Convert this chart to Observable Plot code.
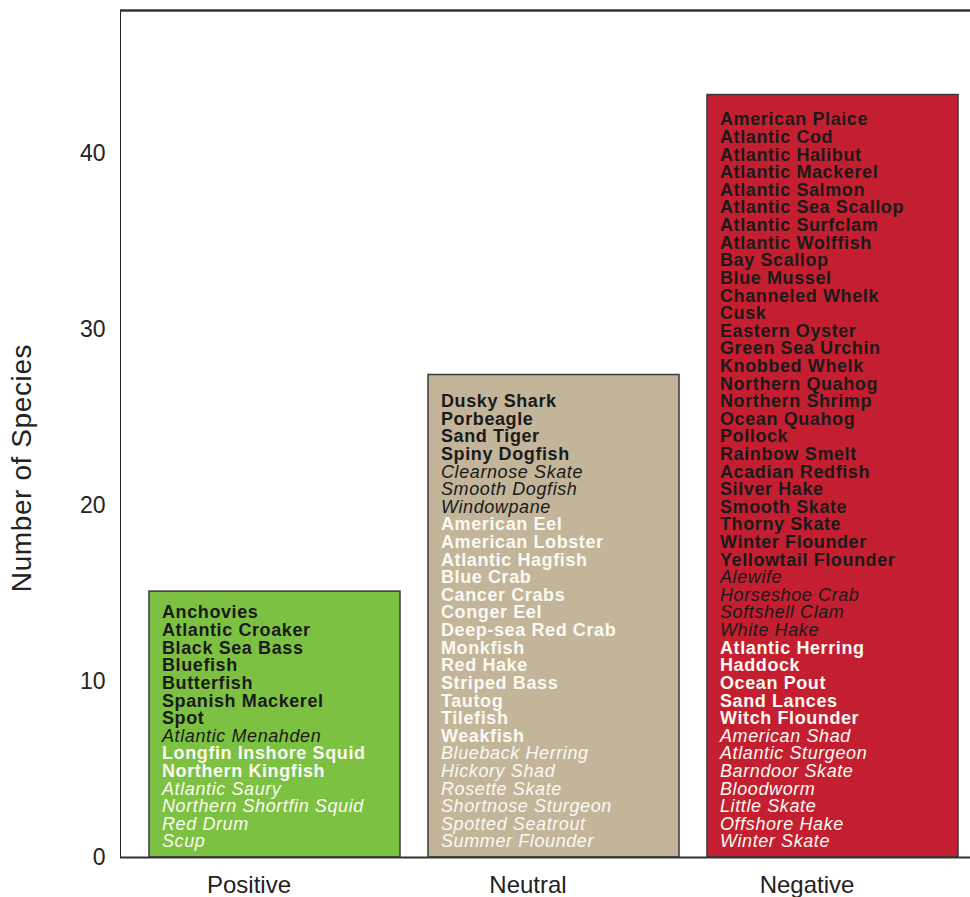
<!DOCTYPE html>
<html>
<head>
<meta charset="utf-8">
<script src="https://cdn.jsdelivr.net/npm/d3@7"></script>
<script src="https://cdn.jsdelivr.net/npm/@observablehq/plot@0.6"></script>
<style>
  html, body { margin: 0; padding: 0; background: #fff; }
  #chart svg { display: block; }
  #chart g[aria-label="text"] text { letter-spacing: 0.6px; }
</style>
</head>
<body>
<div id="chart"></div>
<script>
// ---- data ----
const categories = ["Positive", "Neutral", "Negative"];
const barHeights = [15.1, 27.4, 43.3];
const barColors = ["#7dc142", "#c3b59a", "#c41f30"];
const yTicks = [0, 10, 20, 30, 40];

// species listed top to bottom; group counts in order:
// dark bold, dark italic, light bold, light italic
const positiveSpecies = [
  "Anchovies", "Atlantic Croaker", "Black Sea Bass", "Bluefish", "Butterfish",
  "Spanish Mackerel", "Spot", "Atlantic Menahden", "Longfin Inshore Squid",
  "Northern Kingfish", "Atlantic Saury", "Northern Shortfin Squid", "Red Drum", "Scup"
];
const positiveGroups = [7, 1, 2, 4];

const neutralSpecies = [
  "Dusky Shark", "Porbeagle", "Sand Tiger", "Spiny Dogfish", "Clearnose Skate",
  "Smooth Dogfish", "Windowpane", "American Eel", "American Lobster", "Atlantic Hagfish",
  "Blue Crab", "Cancer Crabs", "Conger Eel", "Deep-sea Red Crab", "Monkfish", "Red Hake",
  "Striped Bass", "Tautog", "Tilefish", "Weakfish", "Blueback Herring", "Hickory Shad",
  "Rosette Skate", "Shortnose Sturgeon", "Spotted Seatrout", "Summer Flounder"
];
const neutralGroups = [4, 3, 13, 6];

const negativeSpecies = [
  "American Plaice", "Atlantic Cod", "Atlantic Halibut", "Atlantic Mackerel",
  "Atlantic Salmon", "Atlantic Sea Scallop", "Atlantic Surfclam", "Atlantic Wolffish",
  "Bay Scallop", "Blue Mussel", "Channeled Whelk", "Cusk", "Eastern Oyster",
  "Green Sea Urchin", "Knobbed Whelk", "Northern Quahog", "Northern Shrimp",
  "Ocean Quahog", "Pollock", "Rainbow Smelt", "Acadian Redfish", "Silver Hake",
  "Smooth Skate", "Thorny Skate", "Winter Flounder", "Yellowtail Flounder",
  "Alewife", "Horseshoe Crab", "Softshell Clam", "White Hake",
  "Atlantic Herring", "Haddock", "Ocean Pout", "Sand Lances", "Witch Flounder",
  "American Shad", "Atlantic Sturgeon", "Barndoor Skate", "Bloodworm", "Little Skate",
  "Offshore Hake", "Winter Skate"
];
const negativeGroups = [26, 4, 5, 7];

// ---- build tables ----
const bars = categories.map((c, i) => ({cat: c, n: barHeights[i]}));
const groupNames = ["darkBold", "darkItalic", "lightBold", "lightItalic"];
function rows(cat, species, groups) {
  const out = [];
  let g = 0, left = groups[0];
  species.forEach((s, i) => {
    while (left === 0) { g++; left = groups[g]; }
    out.push({cat, name: s, pos: species.length - 1 - i + 0.9, group: groupNames[g]});
    left--;
  });
  return out;
}
const labels = [
  ...rows("Positive", positiveSpecies, positiveGroups),
  ...rows("Neutral", neutralSpecies, neutralGroups),
  ...rows("Negative", negativeSpecies, negativeGroups)
];

const textBase = {
  x: "cat", y: "pos", text: "name", textAnchor: "start", dx: -113,
  fontSize: 18, lineAnchor: "middle"
};
const dark = "#1a1a1a", light = "#fbfaf2";

const plot = Plot.plot({
  width: 970,
  height: 897,
  marginLeft: 120,
  marginRight: 0,
  marginTop: 10,
  marginBottom: 40,
  style: {fontFamily: "'Liberation Sans', Arial, sans-serif", fontSize: "23px", color: "#222", background: "#fff"},
  x: {domain: categories, range: [120, 986], padding: 0.102},
  y: {domain: [0, 48.1], ticks: yTicks, tickSize: 0, tickPadding: 15, line: true, label: null},
  color: {domain: categories, range: barColors},
  marks: [
    Plot.barY(bars, {x: "cat", y: "n", fill: "cat", stroke: "#3a3a3a", strokeWidth: 1.5}),
    Plot.text(labels.filter(d => d.group === "darkBold"), {...textBase, fill: dark, fontWeight: "bold"}),
    Plot.text(labels.filter(d => d.group === "darkItalic"), {...textBase, fill: dark, fontStyle: "italic"}),
    Plot.text(labels.filter(d => d.group === "lightBold"), {...textBase, fill: light, fontWeight: "bold"}),
    Plot.text(labels.filter(d => d.group === "lightItalic"), {...textBase, fill: light, fontStyle: "italic"}),
    Plot.ruleY([0], {stroke: "#333", strokeWidth: 2}),
    Plot.ruleY([48.1], {stroke: "#333", strokeWidth: 2.5}),
    Plot.axisX({tickSize: 0, tickPadding: 18, fontSize: 24, dx: -26, label: null}),
    Plot.text(["Number of Species"], {frameAnchor: "left", textAnchor: "middle", dx: -98, dy: 34, rotate: -90, fontSize: 28, fill: "#222"})
  ]
});
document.getElementById("chart").appendChild(plot);
</script>
</body>
</html>
